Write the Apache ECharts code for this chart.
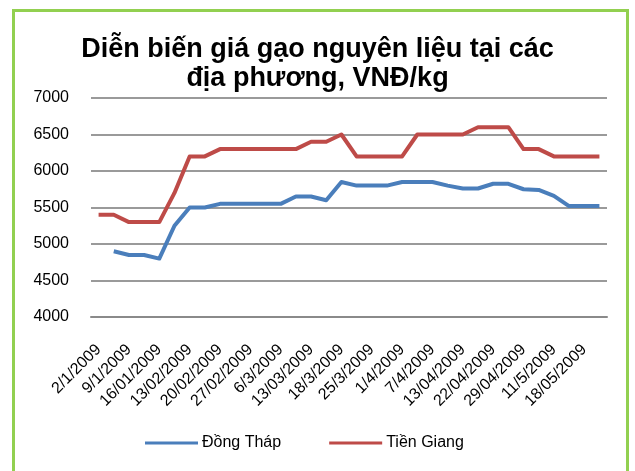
<!DOCTYPE html>
<html>
<head>
<meta charset="utf-8">
<script src="https://cdn.jsdelivr.net/npm/echarts@6/dist/echarts.min.js"></script>
<style>
html,body{margin:0;padding:0;background:#fff;}
#c{width:635px;height:471px;}
</style>
</head>
<body>
<div id="c"></div>
<script>
const categories = [
  '2/1/2009','5/1/2009','9/1/2009','13/01/2009','16/01/2009','10/02/2009',
  '13/02/2009','17/02/2009','20/02/2009','24/02/2009','27/02/2009','3/3/2009',
  '6/3/2009','10/3/2009','13/03/2009','16/3/2009','18/3/2009','20/3/2009',
  '25/3/2009','27/3/2009','1/4/2009','3/4/2009','7/4/2009','10/4/2009',
  '13/04/2009','17/04/2009','22/04/2009','24/04/2009','29/04/2009','6/5/2009',
  '11/5/2009','15/5/2009','18/05/2009','22/05/2009'
];
const dongThap = [
  null, 4900, 4850, 4850, 4800, 5250, 5500, 5500, 5550, 5550,
  5550, 5550, 5550, 5650, 5650, 5600, 5850, 5800, 5800, 5800,
  5850, 5850, 5850, 5800, 5760, 5760, 5825, 5825, 5750, 5740,
  5660, 5520, 5520, 5520
];
const tienGiang = [
  5400, 5400, 5300, 5300, 5300, 5700, 6200, 6200, 6300, 6300,
  6300, 6300, 6300, 6300, 6400, 6400, 6500, 6200, 6200, 6200,
  6200, 6500, 6500, 6500, 6500, 6600, 6600, 6600, 6300, 6300,
  6200, 6200, 6200, 6200
];
const seriesNames = ['Đồng Tháp', 'Tiền Giang'];
const titleText = 'Diễn biến giá gạo nguyên liệu tại các\nđịa phương, VNĐ/kg';

const chart = echarts.init(document.getElementById('c'));
const font = '"Liberation Sans", Arial, sans-serif';
chart.setOption({
  animation: false,
  backgroundColor: '#fff',
  textStyle: { fontFamily: font },
  graphic: [{
    type: 'rect', z: 100,
    shape: { x: 13.5, y: 10.5, width: 614, height: 480 },
    style: { fill: 'none', stroke: '#92D050', lineWidth: 3 }
  }],
  title: {
    text: titleText,
    left: 'center',
    top: 30,
    textStyle: { fontFamily: font, fontWeight: 'bold', fontSize: 27, lineHeight: 29, color: '#000' }
  },
  legend: {
    top: 430,
    left: 140,
    itemWidth: 53,
    itemHeight: 3,
    itemGap: 48,
    icon: 'rect',
    textStyle: { fontFamily: font, fontSize: 16, color: '#000', padding: [0, 0, 0, -1] },
    data: seriesNames
  },
  grid: { left: 91, right: 28, top: 98, bottom: 154 },
  xAxis: {
    type: 'category',
    data: categories,
    boundaryGap: true,
    axisLine: { lineStyle: { color: '#8a8a8a', width: 2 } },
    axisTick: { show: false },
    axisLabel: { interval: 1, rotate: 45, fontSize: 16, color: '#000', margin: 30, fontFamily: font }
  },
  yAxis: {
    type: 'value',
    min: 4000, max: 7000, interval: 500,
    axisLine: { show: false },
    axisTick: { show: false },
    splitLine: { lineStyle: { color: '#9a9a9a', width: 2 } },
    axisLabel: { fontSize: 16, color: '#000', margin: 22, fontFamily: font, formatter: v => String(v) }
  },
  series: [
    {
      name: seriesNames[0], type: 'line', data: dongThap,
      symbol: 'none', lineStyle: { color: '#4A7EBB', width: 4, join: 'round' },
      itemStyle: { color: '#4A7EBB' }
    },
    {
      name: seriesNames[1], type: 'line', data: tienGiang,
      symbol: 'none', lineStyle: { color: '#BE4B48', width: 4, join: 'round' },
      itemStyle: { color: '#BE4B48' }
    }
  ]
});
</script>
</body>
</html>
